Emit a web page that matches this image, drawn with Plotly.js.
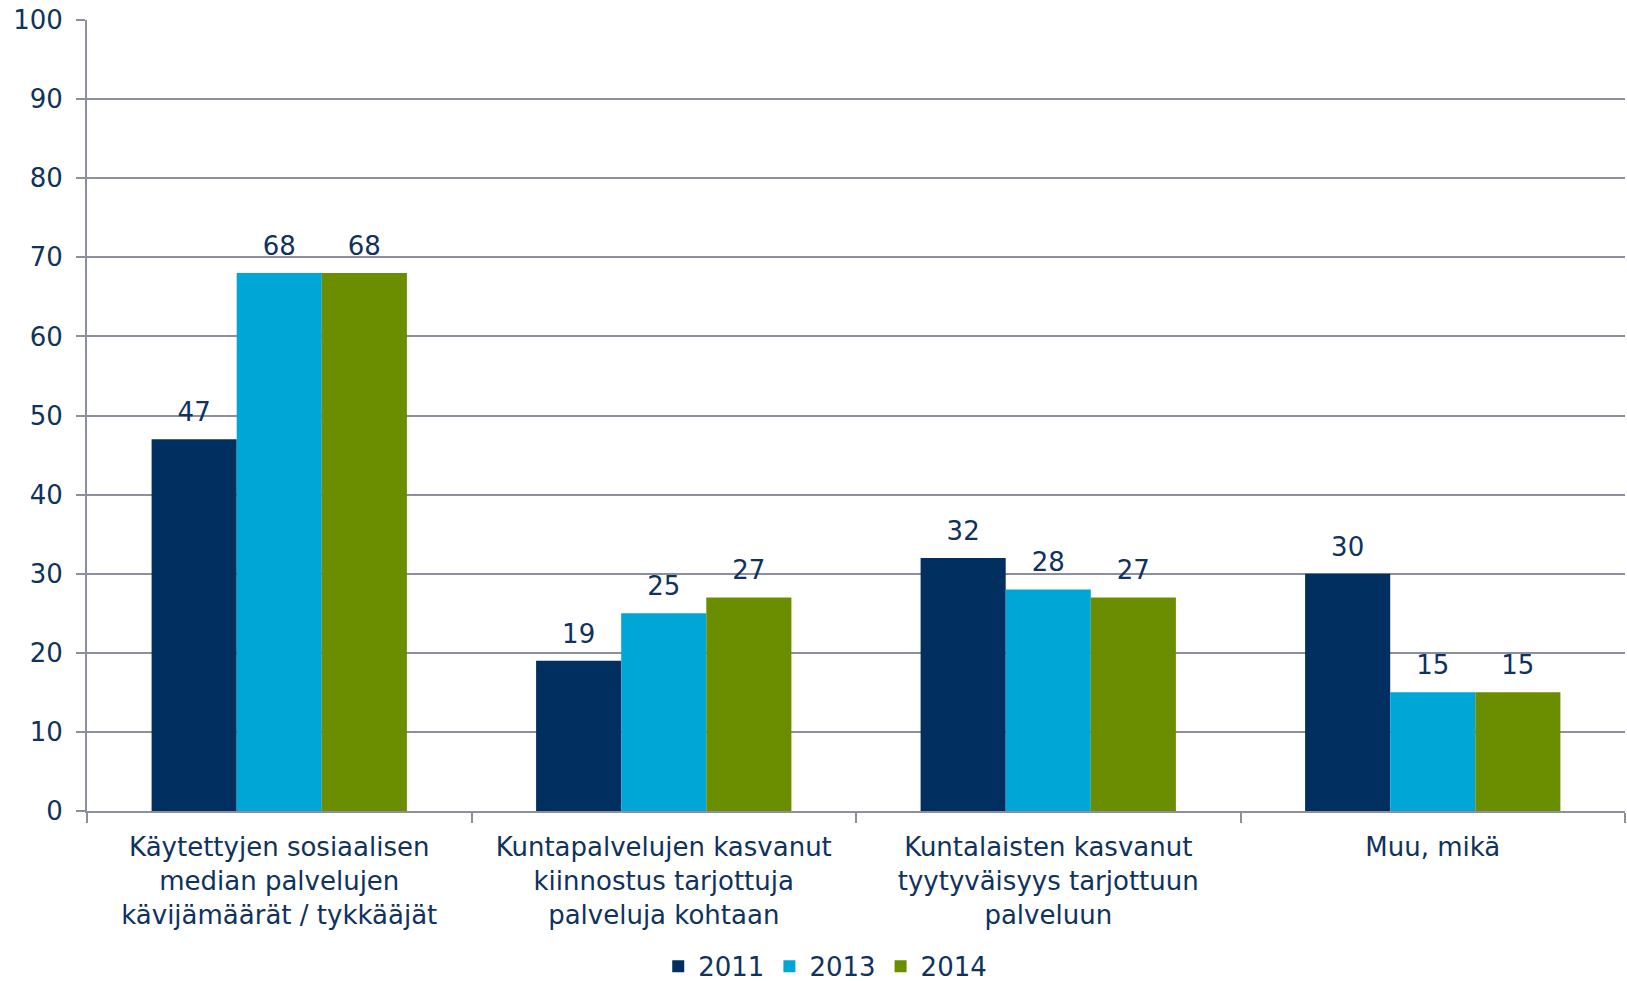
<!DOCTYPE html>
<html>
<head>
<meta charset="utf-8">
<script src="https://cdn.plot.ly/plotly-3.0.1.min.js"></script>
<style>
  body { margin: 0; background: white; }
  #plot { width: 1627px; height: 981px; }
</style>
</head>
<body>
<div id="plot"></div>
<script>
// --- Data ---
const categories = [
  "Käytettyjen sosiaalisen<br>median palvelujen<br>kävijämäärät / tykkääjät",
  "Kuntapalvelujen kasvanut<br>kiinnostus tarjottuja<br>palveluja kohtaan",
  "Kuntalaisten kasvanut<br>tyytyväisyys tarjottuun<br>palveluun",
  "Muu, mikä"
];
const years = ["2011", "2013", "2014"];
const values2011 = [47, 19, 32, 30];
const values2013 = [68, 25, 28, 15];
const values2014 = [68, 27, 27, 15];

const seriesValues = [values2011, values2013, values2014];
const colors = ["#002F60", "#00A6D6", "#6A8E00"];
const textColor = "#0F325E";
const gridColor = "#8B8FA0";
const font = "DejaVu Sans, Verdana, sans-serif";

// --- Bars ---
const bars = years.map((yr, i) => ({
  type: "bar",
  name: yr,
  x: categories,
  y: seriesValues[i],
  marker: { color: colors[i] },
  hoverinfo: "skip"
}));

// --- Value labels (grouped scatter so they line up with the bars) ---
const labels = years.map((yr, i) => ({
  type: "scatter",
  mode: "markers+text",
  x: categories,
  y: seriesValues[i],
  text: seriesValues[i].map(String),
  textposition: "top center",
  textfont: { family: font, size: 26, color: textColor },
  marker: { size: 17, opacity: 0 },
  showlegend: false,
  hoverinfo: "skip",
  cliponaxis: false
}));

// --- Layout ---
const layout = {
  width: 1627,
  height: 981,
  margin: { l: 87, r: 2, t: 20, b: 170 },
  paper_bgcolor: "white",
  plot_bgcolor: "white",
  font: { family: font, size: 26, color: textColor },
  barmode: "group",
  bargap: 0.336,
  bargroupgap: 0,
  scattermode: "group",
  showlegend: true,
  legend: {
    orientation: "h",
    x: 0.48,
    xanchor: "center",
    yref: "container",
    y: 0.015,
    yanchor: "middle",
    font: { family: font, size: 26, color: textColor },
    itemclick: false
  },
  xaxis: {
    type: "category",
    tickson: "boundaries",
    ticks: "outside",
    ticklen: 10,
    tickwidth: 2,
    tickcolor: gridColor,
    ticklabelstandoff: 12,
    showline: true,
    linecolor: gridColor,
    linewidth: 2,
    showgrid: false,
    tickfont: { family: font, size: 26, color: textColor },
    fixedrange: true
  },
  yaxis: {
    range: [0, 100],
    dtick: 10,
    ticks: "outside",
    ticklen: 9,
    tickwidth: 2,
    tickcolor: gridColor,
    ticklabelstandoff: 8,
    showline: true,
    linecolor: gridColor,
    linewidth: 2,
    showgrid: true,
    gridcolor: gridColor,
    gridwidth: 2,
    zeroline: false,
    tickfont: { family: font, size: 26, color: textColor },
    fixedrange: true
  }
};

Plotly.newPlot("plot", [...bars, ...labels], layout, { displayModeBar: false, staticPlot: true });
</script>
</body>
</html>
